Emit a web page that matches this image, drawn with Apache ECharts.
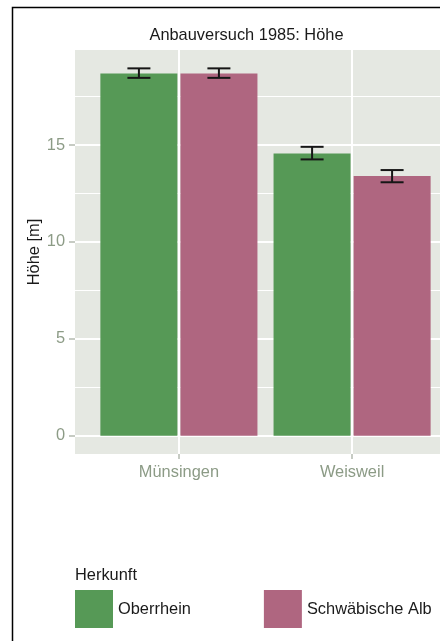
<!DOCTYPE html>
<html><head><meta charset="utf-8">
<script src="https://cdn.jsdelivr.net/npm/echarts@6/dist/echarts.min.js"></script>
<style>html,body{margin:0;padding:0;background:#fff}#c{width:440px;height:641px}</style>
</head><body><div id="c"></div>
<script>
const categories = ['Münsingen', 'Weisweil'];
const groups = ['Oberrhein', 'Schwäbische Alb'];
const xPositions = [1, 2];
const oberrhein = [18.70, 14.57];
const oberrheinLow = [18.47, 14.26];
const oberrheinHigh = [18.96, 14.91];
const schwaebisch = [18.70, 13.40];
const schwaebischLow = [18.47, 13.08];
const schwaebischHigh = [18.96, 13.71];
const yTicks = [0, 5, 10, 15];
const yMinorTicks = [2.5, 7.5, 12.5, 17.5];

const FONT = "'Liberation Sans', Arial, sans-serif";
const FS = 16.4;
const GREEN = '#569956', PINK = '#AF6680';
const LABEL = '#8C9B86', TICK = '#B4BBB0';
const dataMax = Math.max(...oberrheinHigh, ...schwaebischHigh);
const yMin = -0.05 * dataMax, yMax = dataMax * 1.05;
const BAR_W = 77, OFF = 40, CAP = 11.5;

function errSeries(offset, lows, highs) {
  return {
    type: 'custom', z: 5, silent: true,
    data: xPositions.map((x, i) => [x, lows[i], highs[i]]),
    renderItem(params, api) {
      const x = api.value(0);
      const top = api.coord([x, api.value(2)]);
      const bot = api.coord([x, api.value(1)]);
      const cx = top[0] + offset;
      const st = { stroke: '#161616', lineWidth: 2 };
      return { type: 'group', children: [
        { type: 'line', shape: { x1: cx, y1: top[1], x2: cx, y2: bot[1] }, style: st },
        { type: 'line', shape: { x1: cx - CAP, y1: top[1], x2: cx + CAP, y2: top[1] }, style: st },
        { type: 'line', shape: { x1: cx - CAP, y1: bot[1], x2: cx + CAP, y2: bot[1] }, style: st }
      ]};
    }
  };
}

const chart = echarts.init(document.getElementById('c'), null, { renderer: 'canvas' });
chart.setOption({
  animation: false,
  backgroundColor: '#ffffff',
  textStyle: { fontFamily: FONT },
  graphic: [{ type: 'rect', silent: true, z: 100,
    shape: { x: 12.5, y: 7.5, width: 600, height: 800 },
    style: { fill: 'none', stroke: '#000', lineWidth: 1.5 } }],
  title: [
    { text: 'Anbauversuch 1985: Höhe', left: 246.5, textAlign: 'center', top: 27, padding: 0,
      textStyle: { fontFamily: FONT, fontSize: FS, fontWeight: 'normal', color: '#1a1a1a' } },
    { text: 'Herkunft', left: 75, top: 567, padding: 0,
      textStyle: { fontFamily: FONT, fontSize: FS, fontWeight: 'normal', color: '#1a1a1a' } }
  ],
  legend: {
    data: groups, left: 75, top: 590, width: 400, padding: 0, icon: 'rect',
    itemWidth: 38, itemHeight: 38, itemGap: 73,
    textStyle: { fontFamily: FONT, fontSize: FS, color: '#1a1a1a' }
  },
  grid: { left: 75, top: 50, width: 381, height: 404, show: true,
    backgroundColor: '#E5E8E2', borderWidth: 0, containLabel: false, outerBoundsMode: 'none' },
  xAxis: {
    type: 'value', min: 0.4, max: 2.6, position: 'bottom',
    axisLine: { show: false, onZero: false },
    axisTick: { show: true, length: 5, customValues: xPositions, lineStyle: { color: TICK, width: 1.5 } },
    axisLabel: { customValues: xPositions, margin: 10, color: LABEL, fontFamily: FONT, fontSize: FS,
      formatter: v => categories[xPositions.indexOf(Math.round(v))] || '' },
    splitLine: { show: true, lineStyle: { color: '#ffffff', width: 2 } }
  },
  yAxis: [{
    type: 'value', min: yMin, max: yMax,
    name: 'Höhe [m]', nameLocation: 'middle', nameGap: 33, nameRotate: 90, nameMoveOverlap: false,
    nameTextStyle: { fontFamily: FONT, fontSize: FS, color: '#1a1a1a' },
    axisLine: { show: false, onZero: false },
    axisTick: { show: true, length: 6, customValues: yTicks, lineStyle: { color: TICK, width: 1.5 } },
    axisLabel: { customValues: yTicks, margin: 10, color: LABEL, fontFamily: FONT, fontSize: FS },
    splitLine: { show: true, lineStyle: { color: '#ffffff', width: 2 } }
  }, {
    type: 'value', min: yMin, max: yMax, position: 'left',
    axisLine: { show: false, onZero: false },
    axisTick: { show: false, customValues: yMinorTicks },
    axisLabel: { show: false, customValues: yMinorTicks },
    splitLine: { show: true, lineStyle: { color: '#ffffff', width: 1.2 } }
  }],
  series: [
    { name: groups[0], type: 'bar', barWidth: BAR_W, barGap: '4%', z: 3,
      itemStyle: { color: GREEN },
      data: xPositions.map((x, i) => [x, oberrhein[i]]) },
    { name: groups[1], type: 'bar', barWidth: BAR_W, barGap: '4%', z: 3,
      itemStyle: { color: PINK },
      data: xPositions.map((x, i) => [x, schwaebisch[i]]) },
    errSeries(-OFF, oberrheinLow, oberrheinHigh),
    errSeries(OFF, schwaebischLow, schwaebischHigh)
  ]
});
</script></body></html>
